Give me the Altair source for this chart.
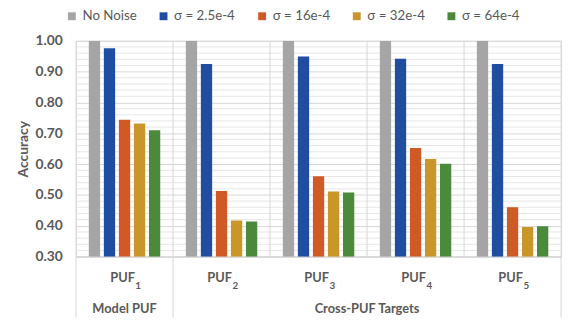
import altair as alt
import pandas as pd

pufs = ["PUF1", "PUF2", "PUF3", "PUF4", "PUF5"]
sub_digits = ["1", "2", "3", "4", "5"]
series = ["No Noise", "σ = 2.5e-4", "σ = 16e-4", "σ = 32e-4", "σ = 64e-4"]
colors = ["#A5A5A5", "#1F4EA0", "#D05A26", "#C9962A", "#4A8A3A"]

no_noise = [1.00, 1.00, 1.00, 1.00, 1.00]
s_2_5 = [0.976, 0.925, 0.949, 0.942, 0.925]
s_16 = [0.744, 0.513, 0.561, 0.652, 0.460]
s_32 = [0.732, 0.417, 0.511, 0.617, 0.396]
s_64 = [0.710, 0.414, 0.508, 0.601, 0.399]

major_ticks = [0.3, 0.4, 0.5, 0.6, 0.7, 0.8, 0.9, 1.0]
minor_ticks = [0.32, 0.34, 0.36, 0.38, 0.42, 0.44, 0.46, 0.48, 0.52, 0.54, 0.56, 0.58,
               0.62, 0.64, 0.66, 0.68, 0.72, 0.74, 0.76, 0.78, 0.82, 0.84, 0.86, 0.88,
               0.92, 0.94, 0.96, 0.98]

W, H = 492, 219
GREY = "#595959"
FONT = "Lato"

rows = []
for s, vals in zip(series, [no_noise, s_2_5, s_16, s_32, s_64]):
    for p, v in zip(pufs, vals):
        rows.append({"puf": p, "series": s, "acc": v})
df = pd.DataFrame(rows)

xs = alt.Scale(domain=pufs, paddingInner=0, paddingOuter=0)
ys = alt.Scale(domain=[0.3, 1.0], zero=False, nice=False)
y_axis = alt.Axis(title="Accuracy", values=major_ticks,
                  format=".2f", grid=True, gridColor="#D6D6D6", domain=False,
                  ticks=False, labelPadding=14, labelFont=FONT, labelFontSize=14,
                  labelFontWeight="bold", labelColor=GREY, labelOverlap=False,
                  labelBound=False, labelFlush=False, titleFont=FONT,
                  titleFontSize=14, titleFontWeight="bold", titleColor=GREY,
                  titlePadding=5)

bars = alt.Chart(df).mark_bar(clip=True).encode(
    x=alt.X("puf:N", sort=pufs, scale=xs, axis=None),
    xOffset=alt.XOffset("series:N", sort=series,
                        scale=alt.Scale(domain=series, paddingInner=0.25, paddingOuter=0.85)),
    y=alt.Y("acc:Q", scale=ys, axis=y_axis),
    y2=alt.datum(0.3),
    color=alt.Color("series:N", sort=series, scale=alt.Scale(domain=series, range=colors),
                    legend=alt.Legend(title=None, orient="none", direction="horizontal",
                                      legendX=-11, legendY=-32, symbolType="square",
                                      symbolSize=64, symbolStrokeWidth=0, labelFont=FONT,
                                      labelFontSize=13.5, labelColor=GREY, columnPadding=20,
                                      labelOffset=4, labelLimit=200)),
)

minor = alt.Chart(pd.DataFrame({"t": minor_ticks})).mark_rule(color="#E6E6E6", strokeWidth=1).encode(
    y=alt.Y("t:Q", scale=ys, axis=y_axis),
)

div_df = pd.DataFrame({"puf": pufs})
dividers = alt.Chart(div_df).mark_rule(color="#D6D6D6").encode(
    x=alt.X("puf:N", sort=pufs, scale=xs, bandPosition=0, axis=None),
    y=alt.value(0), y2=alt.value(H),
)
right_edge = alt.Chart(pd.DataFrame({"puf": ["PUF5"]})).mark_rule(color="#D6D6D6").encode(
    x=alt.X("puf:N", sort=pufs, scale=xs, bandPosition=1, axis=None),
    y=alt.value(0), y2=alt.value(H + 62),
)
outer = alt.Chart(pd.DataFrame({"puf": ["PUF1", "PUF2"]})).mark_rule(color="#D6D6D6").encode(
    x=alt.X("puf:N", sort=pufs, scale=xs, bandPosition=0, axis=None),
    y=alt.value(H), y2=alt.value(H + 62),
)
baseline = alt.Chart(pd.DataFrame({"t": [0.3]})).mark_rule(color="#D6D6D6").encode(
    y=alt.Y("t:Q", scale=ys, axis=y_axis),
)

lab_df = pd.DataFrame({"puf": pufs, "main": ["PUF"] * 5, "sub": sub_digits})
lab_main = alt.Chart(lab_df).mark_text(font=FONT, fontSize=13, fontWeight="bold", color=GREY,
                                        baseline="middle", dx=-2).encode(
    x=alt.X("puf:N", sort=pufs, scale=xs, axis=None),
    y=alt.value(H + 22), text="main:N",
)
lab_sub = alt.Chart(lab_df).mark_text(font=FONT, fontSize=10, fontWeight="bold", color=GREY,
                                       baseline="middle", align="left", dx=11).encode(
    x=alt.X("puf:N", sort=pufs, scale=xs, axis=None),
    y=alt.value(H + 30), text="sub:N",
)
grp_df = pd.DataFrame({"puf": ["PUF1"], "label": ["Model PUF"]})
grp1 = alt.Chart(grp_df).mark_text(font=FONT, fontSize=13, fontWeight="bold", color=GREY,
                                    baseline="middle").encode(
    x=alt.X("puf:N", sort=pufs, scale=xs, axis=None),
    y=alt.value(H + 53), text="label:N",
)
grp_df2 = pd.DataFrame({"puf": ["PUF3"], "label": ["Cross-PUF Targets"]})
grp2 = alt.Chart(grp_df2).mark_text(font=FONT, fontSize=13, fontWeight="bold", color=GREY,
                                     baseline="middle").encode(
    x=alt.X("puf:N", sort=pufs, scale=xs, bandPosition=1, axis=None),
    y=alt.value(H + 53), text="label:N",
)

chart = alt.layer(minor, dividers, right_edge, outer, baseline, bars, lab_main, lab_sub, grp1, grp2).properties(
    width=W, height=H,
    autosize=alt.AutoSizeParams(type="none"),
    padding={"left": 69, "top": 31, "right": 5, "bottom": 62},
).configure_view(stroke=None).configure(background="white")

chart.save("out.html", embed_options={"renderer": "svg", "actions": False})
